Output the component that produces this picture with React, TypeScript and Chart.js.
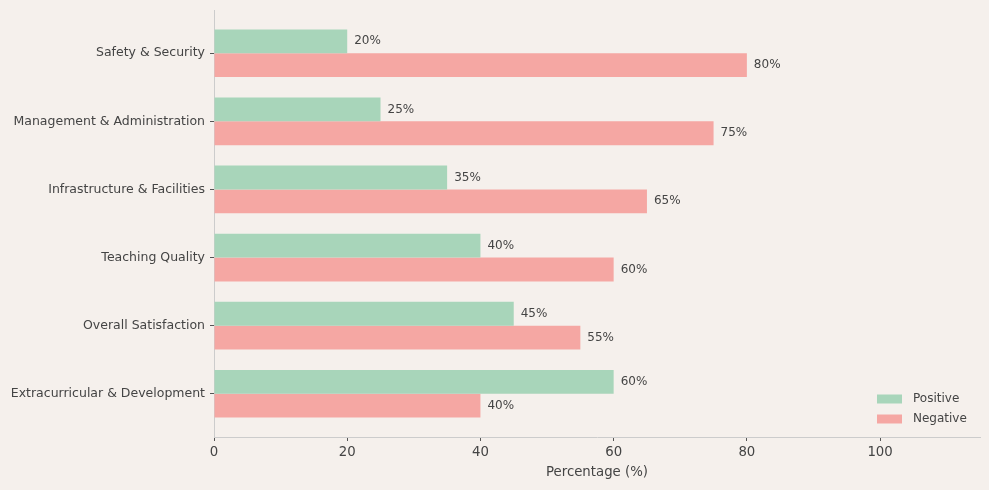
import React, { useEffect, useRef } from "react";
import { Chart, registerables } from "chart.js";

Chart.register(...registerables);

const categories = [
  "Safety & Security",
  "Management & Administration",
  "Infrastructure & Facilities",
  "Teaching Quality",
  "Overall Satisfaction",
  "Extracurricular & Development",
];
const positiveValues = [20, 25, 35, 40, 45, 60];
const negativeValues = [80, 75, 65, 60, 55, 40];
const xTicks = [0, 20, 40, 60, 80, 100];
const seriesNames = ["Positive", "Negative"];
const seriesColors = ["#a8d5ba", "#f5a7a3"];

const FONT = "'DejaVu Sans', sans-serif";
const TEXT = "#444444";
const SPINE = "#cccccc";

const valueLabels = {
  id: "valueLabels",
  afterDatasetsDraw(chart: any) {
    const ctx = chart.ctx;
    ctx.save();
    ctx.font = `12px ${FONT}`;
    ctx.fillStyle = TEXT;
    ctx.textAlign = "left";
    ctx.textBaseline = "middle";
    chart.data.datasets.forEach((ds: any, di: number) => {
      const meta = chart.getDatasetMeta(di);
      meta.data.forEach((el: any, i: number) => {
        const v = ds.data[i].x;
        ctx.fillText(`${v}%`, el.x + 7, el.y);
      });
    });
    ctx.restore();
  },
};

const customLegend = {
  id: "customLegend",
  afterDraw(chart: any) {
    const ctx = chart.ctx;
    const area = chart.chartArea;
    ctx.save();
    ctx.font = `12px ${FONT}`;
    ctx.textAlign = "left";
    ctx.textBaseline = "middle";
    const x0 = area.right - 103;
    const yStart = area.bottom - 38;
    chart.data.datasets.forEach((ds: any, i: number) => {
      const y = yStart + i * 20;
      ctx.fillStyle = ds.backgroundColor;
      ctx.fillRect(x0, y - 4.5, 25, 9);
      ctx.fillStyle = TEXT;
      ctx.fillText(ds.label, x0 + 36, y);
    });
    ctx.restore();
  },
};

export default function App() {
  const ref = useRef<HTMLCanvasElement>(null);
  useEffect(() => {
    document.body.style.margin = "0";
    document.body.style.background = "#f5f0ec";
    const positiveData = positiveValues.map((v, i) => ({ x: v, y: i }));
    const negativeData = negativeValues.map((v, i) => ({ x: v, y: i }));
    const chart = new Chart(ref.current!, {
      type: "bar",
      data: {
        datasets: [
          {
            label: seriesNames[0],
            data: positiveData,
            backgroundColor: seriesColors[0],
            borderWidth: 0,
            categoryPercentage: 0.7,
            barPercentage: 1,
          } as any,
          {
            label: seriesNames[1],
            data: negativeData,
            backgroundColor: seriesColors[1],
            borderWidth: 0,
            categoryPercentage: 0.7,
            barPercentage: 1,
          } as any,
        ],
      },
      options: {
        indexAxis: "y",
        responsive: false,
        animation: false,
        layout: { padding: { top: 10, right: 9, left: 0, bottom: 9 } },
        plugins: {
          legend: { display: false },
          tooltip: { enabled: false },
        },
        scales: {
          x: {
            type: "linear",
            min: 0,
            max: 115,
            offset: false,
            afterBuildTicks: (s: any) => {
              s.ticks = xTicks.map((v) => ({ value: v }));
            },
            afterFit: (s: any) => {
              s.height = 44;
            },
            ticks: {
              color: TEXT,
              font: { family: FONT, size: 13.3 },
              padding: 4,
              maxRotation: 0,
            },
            grid: {
              drawOnChartArea: false,
              drawTicks: true,
              tickLength: 4,
              color: "#555555",
              offset: false,
            },
            border: { display: true, color: SPINE, width: 1 },
            title: {
              display: true,
              text: "Percentage (%)",
              color: TEXT,
              font: { family: FONT, size: 13.3 },
              padding: { top: 0, bottom: 0 },
            },
          },
          y: {
            type: "linear",
            reverse: true,
            min: -0.635,
            max: 5.635,
            offset: false,
            afterBuildTicks: (s: any) => {
              s.ticks = categories.map((_, i) => ({ value: i }));
            },
            afterFit: (s: any) => {
              s.width = 214;
              s.paddingTop = 0;
              s.paddingBottom = 0;
            },
            ticks: {
              color: TEXT,
              font: { family: FONT, size: 12.5 },
              padding: 5,
              callback: (v: any) => categories[v as number] ?? "",
            },
            grid: {
              drawOnChartArea: false,
              drawTicks: true,
              tickLength: 4,
              color: "#555555",
              offset: false,
            },
            border: { display: true, color: SPINE, width: 1 },
          },
        },
      },
      plugins: [valueLabels, customLegend],
    } as any);
    return () => chart.destroy();
  }, []);
  return (
    <div style={{ width: 989, height: 490, background: "#f5f0ec" }}>
      <canvas ref={ref} width={989} height={490} style={{ display: "block" }} />
    </div>
  );
}
